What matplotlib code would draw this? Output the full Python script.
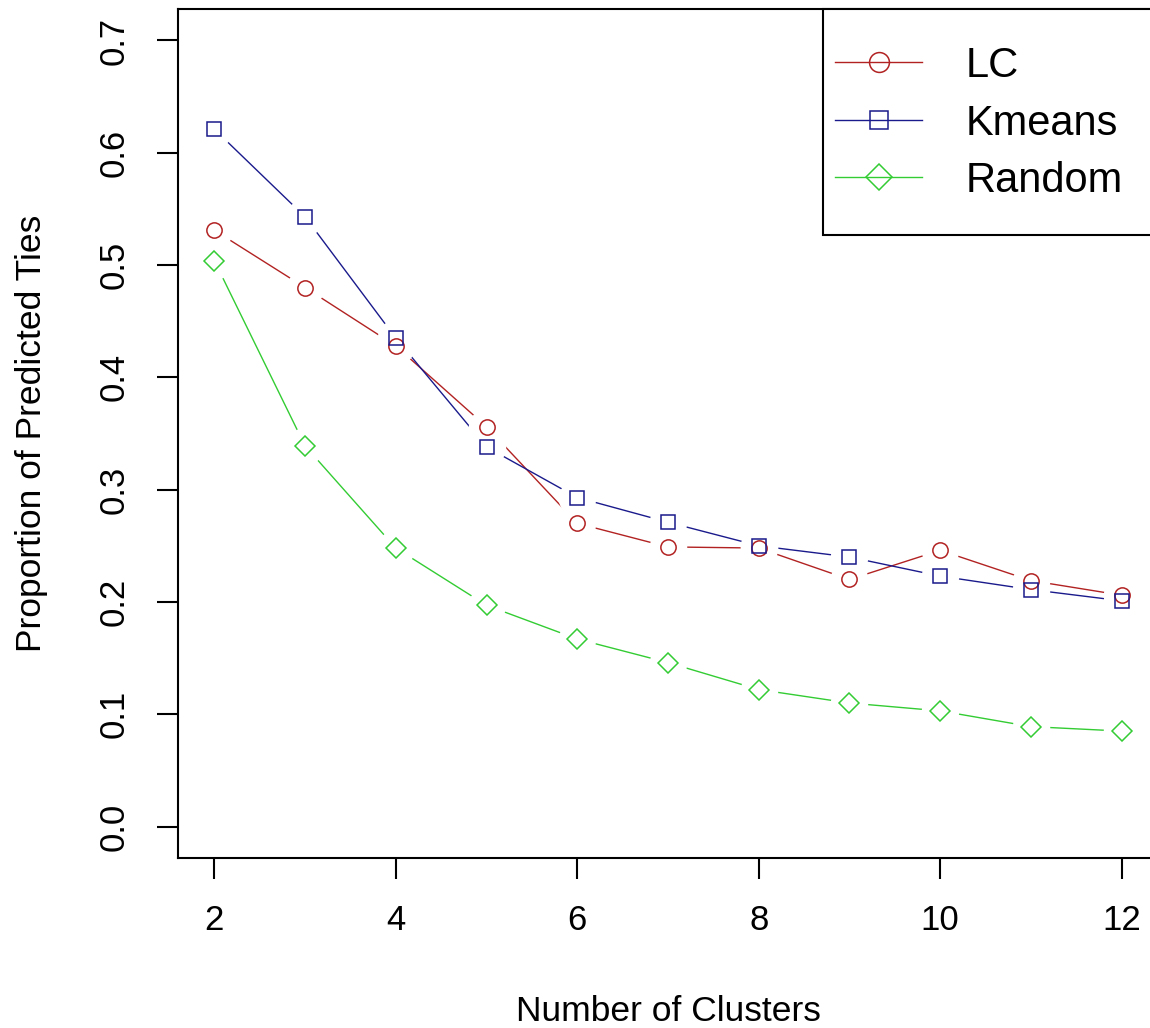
import matplotlib
matplotlib.use("Agg")
import matplotlib.pyplot as plt
from matplotlib.patches import Rectangle
import numpy as np

plt.rcParams['font.family'] = ['Liberation Sans', 'DejaVu Sans']

# data
clusters = [2, 3, 4, 5, 6, 7, 8, 9, 10, 11, 12]
lc = [0.531, 0.480, 0.428, 0.356, 0.270, 0.249, 0.248, 0.220, 0.246, 0.219, 0.206]
kmeans = [0.621, 0.543, 0.435, 0.338, 0.293, 0.271, 0.250, 0.240, 0.223, 0.211, 0.201]
random_ = [0.504, 0.339, 0.248, 0.197, 0.167, 0.146, 0.122, 0.110, 0.103, 0.089, 0.085]

series = [
    ('LC', lc, '#B22222', 'o', 11),
    ('Kmeans', kmeans, '#1A1A8C', 's', 10.5),
    ('Random', random_, '#33CC33', 'D', 10.5),
]

W, H = 1150, 1028
fig = plt.figure(figsize=(W / 100, H / 100), dpi=100)
# axes box runs off the right edge like the reference
ax = fig.add_axes([178 / W, 1 - 858 / H, (1158 - 178) / W, (858 - 9) / H])

handles = []
for name, vals, col, mk, ms in series:
    ax.plot(clusters, vals, color=col, lw=1.0, zorder=2)
    # white halo so the line stops short of each point (R type="b")
    ax.plot(clusters, vals, linestyle='none', marker='o', markersize=27,
            markerfacecolor='white', markeredgecolor='none', zorder=3)
    ax.plot(clusters, vals, linestyle='none', marker=mk, markersize=ms,
            markerfacecolor='none', markeredgecolor=col, markeredgewidth=1.1, zorder=4)
    h, = ax.plot([], [], color=col, lw=1.0, marker=mk, markersize=ms * 1.3,
                 markerfacecolor='none', markeredgecolor=col,
                 markeredgewidth=1.1, label=name)
    handles.append(h)

ax.set_xlim(1.6, 12.4)
ax.set_ylim(-0.028, 0.728)
ax.set_xticks([2, 4, 6, 8, 10, 12])
yt = np.arange(0, 0.75, 0.1)
ax.set_yticks(yt)
ax.set_yticklabels([f'{v:.1f}' for v in yt], rotation=90, va='center')

for sp in ax.spines.values():
    sp.set_linewidth(1.5)
ax.tick_params(axis='both', length=15, width=1.5, labelsize=25)
ax.tick_params(axis='x', pad=18)
ax.tick_params(axis='y', pad=19)

ax.set_xlabel('Number of Clusters', fontsize=25.5, labelpad=42)
ax.set_ylabel('Proportion of Predicted Ties', fontsize=25.5, labelpad=36)

# legend frame (R style, touching the top of the plot region)
x0 = (823 - 178) / 980
y0 = (858 - 235) / 849
ax.add_patch(Rectangle((x0, y0), 1.0 - x0, 1.0 - y0, transform=ax.transAxes,
                       facecolor='white', edgecolor='black', linewidth=1.5,
                       zorder=5, clip_on=False))
leg = ax.legend(handles=handles, loc='upper left',
                bbox_to_anchor=((835 - 178) / 980, (858 - 46) / 849),
                fontsize=30, frameon=False, borderaxespad=0, borderpad=0,
                labelspacing=0.42, handlelength=2.1, handletextpad=1.03)
leg.set_zorder(6)

fig.savefig('out.png', dpi=100)
